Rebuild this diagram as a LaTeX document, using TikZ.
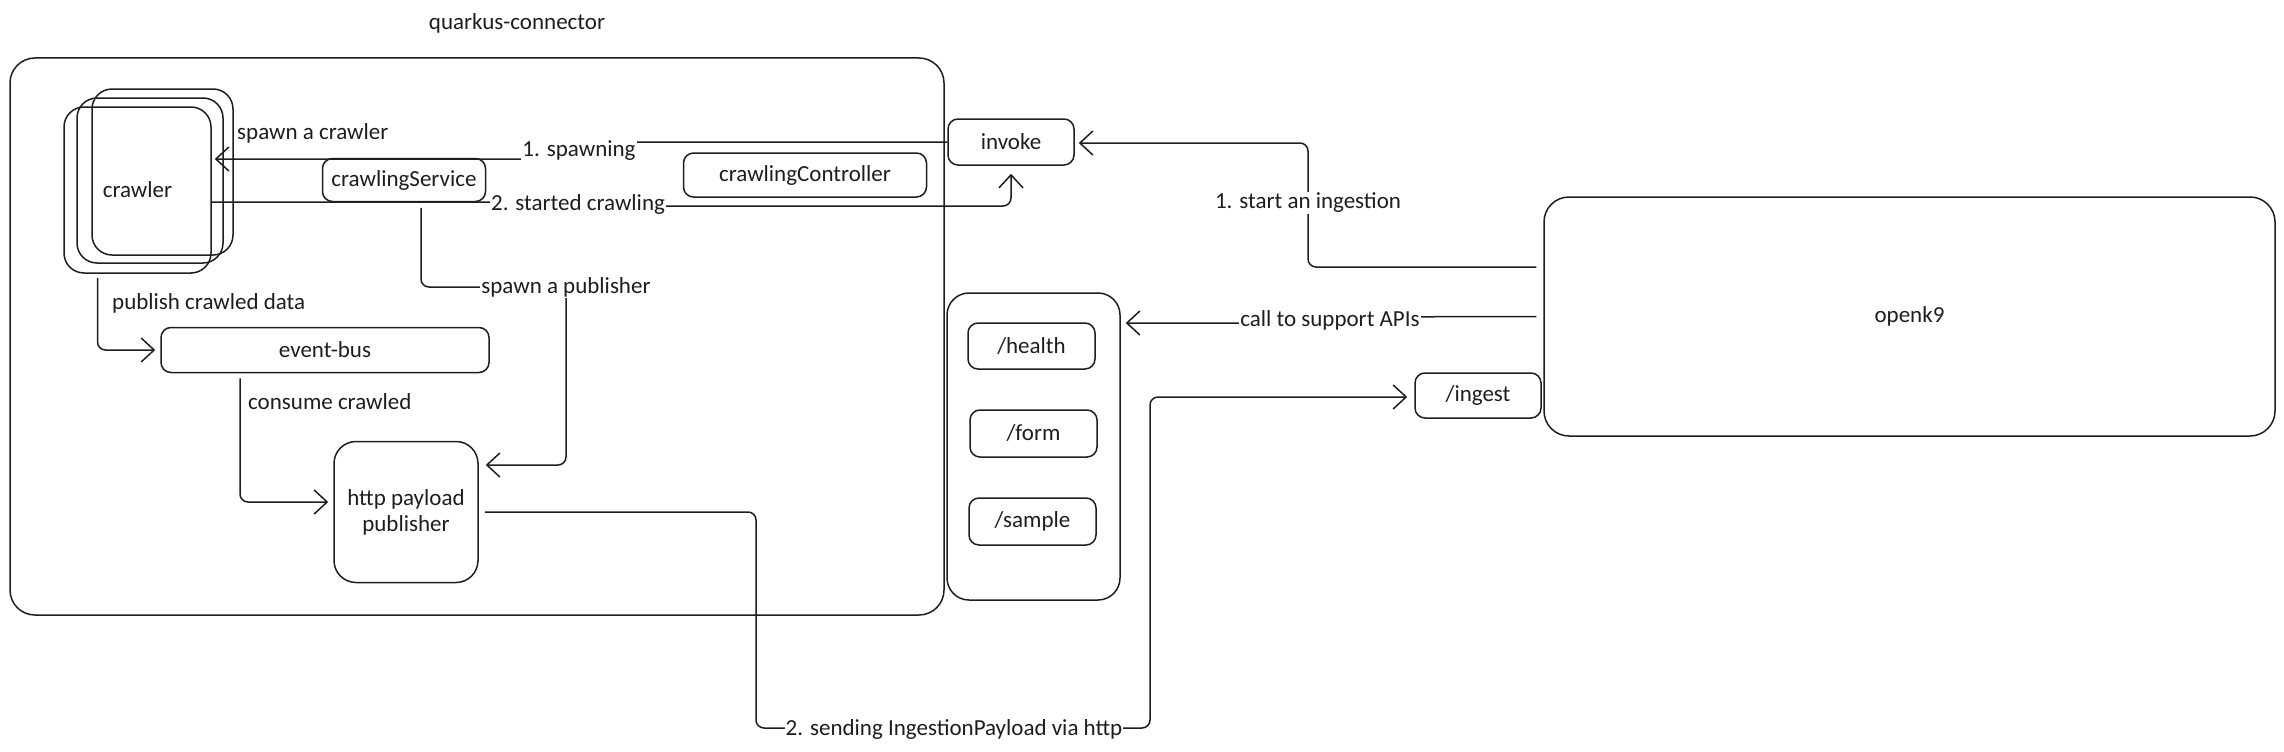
\documentclass[tikz,border=0pt]{standalone}
\usepackage{fontspec}
\setmainfont{Carlito}
\usetikzlibrary{arrows.meta}
\definecolor{ink}{HTML}{1E1E1E}
\begin{document}
\begin{tikzpicture}[x=1pt,y=-1pt,
  every node/.style={font=\fontsize{23}{26}\selectfont, text=ink},
  box/.style={draw=ink, line width=1.5pt, rounded corners=10pt, inner sep=0pt, align=center},
  lbl/.style={fill=white, inner sep=1pt},
  free/.style={inner sep=0pt, anchor=west},
  conn/.style={draw=ink, line width=1.5pt, rounded corners=8pt, -{Straight Barb[length=13pt,width=24pt,line width=1.5pt]}}
]
\useasboundingbox (0,0) rectangle (2284,752);

% title
\node (title) at (517,23) {quarkus-connector};

% containers
\node[box, rounded corners=25pt, minimum width=934pt, minimum height=557pt] (qc) at (477,336.5) {};
\node[box, rounded corners=22pt, minimum width=173pt, minimum height=307pt] (apis) at (1033.5,446.5) {};
\node[box, rounded corners=25pt, minimum width=731pt, minimum height=239pt] (openk9) at (1909.5,316.5) {openk9};

% crawler stack
\node[box, rounded corners=20pt, minimum width=141pt, minimum height=166pt] (crawlerA) at (162.5,172) {};
\node[box, rounded corners=20pt, minimum width=146pt, minimum height=165pt] (crawlerB) at (150,180.5) {};
\node[box, rounded corners=20pt, minimum width=147pt, minimum height=166pt] (crawler) at (137.5,190) {crawler};

% inner boxes
\node[box, minimum width=163pt, minimum height=43pt] (csvc) at (404,180) {crawlingService};
\node[box, minimum width=243pt, minimum height=44pt] (cctl) at (805,175) {crawlingController};
\node[box, minimum width=126pt, minimum height=46pt] (invoke) at (1011,142) {invoke};
\node[box, minimum width=328pt, minimum height=45pt] (bus) at (325,350) {event-bus};
\node[box, rounded corners=22pt, minimum width=144pt, minimum height=141pt] (pub) at (406,512) {http payload\\publisher};

\node[box, minimum width=127pt, minimum height=46pt] (health) at (1031.5,346) {/health};
\node[box, minimum width=127pt, minimum height=47pt] (form) at (1033.5,433.5) {/form};
\node[box, minimum width=127pt, minimum height=47pt] (sample) at (1032.5,521.5) {/sample};
\node[box, minimum width=126pt, minimum height=45pt] (ingest) at (1478,395.5) {/ingest};

% connectors
\draw[conn] (invoke.west) -- (579,142) -- (579,159) -- ([xshift=3pt]crawler.east |- 0,159);
\draw[conn] (crawler.east |- 0,202) -- (578,202) -- (578,206) -- (invoke.south |- 0,206) -- ([yshift=-8pt]invoke.south);
\draw[conn] ([xshift=17pt,yshift=-5.5pt]csvc.south) |- (566,287) |- ([xshift=7pt]pub.east |- 0,465);
\draw[conn] ([xshift=-40pt,yshift=-4pt]crawler.south) |- ([xshift=-5pt]bus.west);
\draw[conn] ([xshift=-85pt,yshift=-5pt]bus.south) |- ([xshift=-5pt,yshift=10pt]pub.west);
\draw[conn] ([xshift=6pt]pub.east) -- (756,512) -- (756,728) -- (1150,728) -- (1150,397) -- ([xshift=-7pt]ingest.west |- 0,397);
\draw[conn] ([xshift=-7pt,yshift=49.5pt]openk9.west) -- (1308,267) -- (1308,143) -- ([xshift=4pt]invoke.east |- 0,143);
\draw[conn] ([xshift=-7pt]openk9.west) -- (1330,317) -- (1330,323) -- ([xshift=5pt,yshift=123.5pt]apis.east);

% labels
\node[lbl] (l1) at (579,151) {1. spawning};
\node[lbl] (l2) at (578,204) {2. started crawling};
\node[lbl] (l3) at (566,287) {spawn a publisher};
\node[lbl] (l4) at (954,729) {2. sending IngestionPayload via http};
\node[lbl] (l5) at (1308,203) {1. start an ingestion};
\node[lbl] (l6) at (1330,320) {call to support APIs};
\node[free] (l7) at (237,133) {spawn a crawler};
\node[free] (l8) at (112,303) {publish crawled data};
\node[free] (l9) at (248,402) {consume crawled};
\end{tikzpicture}
\end{document}
